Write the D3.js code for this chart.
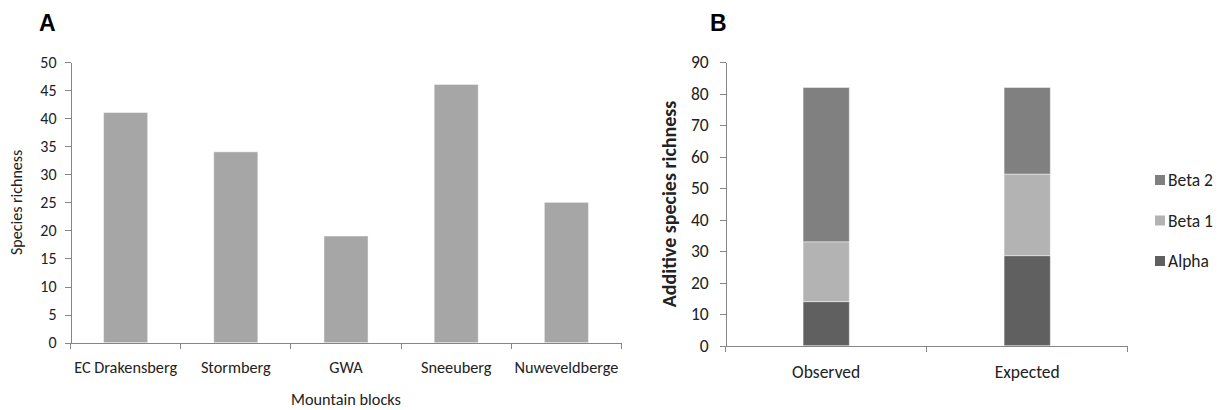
<!DOCTYPE html>
<html>
<head>
<meta charset="utf-8">
<script src="https://cdn.jsdelivr.net/npm/d3@7"></script>
<style>
  body { margin: 0; background: #fff; }
  svg { display: block; font-family: Carlito, Lato, 'Noto Sans', sans-serif; }
  .axis path, .axis line { stroke: #868686; shape-rendering: crispEdges; }
  .axis text { fill: #222; }
  .panel-title { font-family: 'Liberation Sans', Arial, sans-serif; font-weight: bold; font-size: 23px; fill: #000; }
  .title { fill: #222; }
</style>
</head>
<body>
<div id="chart"></div>
<script>
// panel A
const blocks = ['EC Drakensberg', 'Stormberg', 'GWA', 'Sneeuberg', 'Nuweveldberge']
const richness = [41, 34, 19, 46, 25]
const richTicks = [0, 5, 10, 15, 20, 25, 30, 35, 40, 45, 50]

// panel B
const partitions = ['Observed', 'Expected']
const alpha = [14, 28.6]
const beta1 = [19, 25.9]
const beta2 = [49, 27.5]
const components = ['Alpha', 'Beta 1', 'Beta 2']
const addTicks = [0, 10, 20, 30, 40, 50, 60, 70, 80, 90]

const colors = {
  'Alpha': '#606060',
  'Beta 1': '#b3b3b3',
  'Beta 2': '#808080'
}

const svg = d3.select('#chart').append('svg')
    .attr('width', 1219)
    .attr('height', 410)

// ---------- A ----------
const dmsA = { left: 70.5, right: 621.5, top: 62, bottom: 342.7 }

const gA = svg.append('g').attr('id', 'panel-a')

gA.append('text')
    .attr('class', 'panel-title')
    .attr('x', 39)
    .attr('y', 31)
    .text('A')

const xA = d3.scaleBand()
    .domain(blocks)
    .range([dmsA.left, dmsA.right])

const yA = d3.scaleLinear()
    .domain([0, 50])
    .range([dmsA.bottom, dmsA.top])

gA.append('g')
    .selectAll('rect')
    .data(blocks)
    .join('rect')
    .attr('x', d => xA(d) + xA.bandwidth() * 0.3)
    .attr('width', xA.bandwidth() * 0.4)
    .attr('y', (d, i) => yA(richness[i]))
    .attr('height', (d, i) => yA(0) - yA(richness[i]))
    .attr('fill', '#a6a6a6')
    .attr('stroke', 'rgba(255,255,255,0.45)')
    .attr('stroke-width', 1)

gA.append('g')
    .attr('class', 'axis')
    .attr('transform', `translate(${dmsA.left},0)`)
    .call(d3.axisLeft(yA).tickValues(richTicks).tickSize(6).tickPadding(8).tickSizeOuter(0))
    .attr('font-family', null)
    .attr('font-size', '16px')

const xAxisA = gA.append('g')
    .attr('class', 'axis')
    .attr('transform', `translate(0,${dmsA.bottom})`)
    .call(d3.axisBottom(xA).tickSize(0).tickPadding(19).tickSizeOuter(0))
    .attr('font-family', null)
    .attr('font-size', '16.3px')

// Excel-style ticks on category boundaries
xAxisA.selectAll('.edge')
    .data(blocks.concat(['end']))
    .join('line')
    .attr('class', 'edge')
    .attr('x1', (d, i) => i < blocks.length ? xA(d) : dmsA.right)
    .attr('x2', (d, i) => i < blocks.length ? xA(d) : dmsA.right)
    .attr('y1', 0)
    .attr('y2', 6)

gA.append('text')
    .attr('class', 'title')
    .attr('x', (dmsA.left + dmsA.right) / 2)
    .attr('y', 405)
    .attr('text-anchor', 'middle')
    .style('font-size', '16.3px')
    .text('Mountain blocks')

gA.append('text')
    .attr('class', 'title')
    .attr('transform', `translate(22,${(dmsA.top + dmsA.bottom) / 2}) rotate(-90)`)
    .attr('text-anchor', 'middle')
    .style('font-size', '16px')
    .text('Species richness')

// ---------- B ----------
const dmsB = { left: 725.7, right: 1127.7, top: 62.3, bottom: 345.7 }

const gB = svg.append('g').attr('id', 'panel-b')

gB.append('text')
    .attr('class', 'panel-title')
    .attr('x', 710)
    .attr('y', 31)
    .text('B')

const xB = d3.scaleBand()
    .domain(partitions)
    .range([dmsB.left, dmsB.right])

const yB = d3.scaleLinear()
    .domain([0, 90])
    .range([dmsB.bottom, dmsB.top])

const table = partitions.map((p, i) => ({
  partition: p,
  'Alpha': alpha[i],
  'Beta 1': beta1[i],
  'Beta 2': beta2[i]
}))

const stacked = d3.stack().keys(components)(table)

gB.append('g')
    .selectAll('g')
    .data(stacked)
    .join('g')
    .attr('fill', d => colors[d.key])
    .selectAll('rect')
    .data(d => d)
    .join('rect')
    .attr('x', d => xB(d.data.partition) + xB.bandwidth() * 0.385)
    .attr('width', xB.bandwidth() * 0.23)
    .attr('y', d => yB(d[1]))
    .attr('height', d => yB(d[0]) - yB(d[1]))
    .attr('stroke', 'rgba(255,255,255,0.45)')
    .attr('stroke-width', 1)

gB.append('g')
    .attr('class', 'axis')
    .attr('transform', `translate(${dmsB.left},0)`)
    .call(d3.axisLeft(yB).tickValues(addTicks).tickSize(6).tickPadding(11).tickSizeOuter(0))
    .attr('font-family', null)
    .attr('font-size', '17.5px')

const xAxisB = gB.append('g')
    .attr('class', 'axis')
    .attr('transform', `translate(0,${dmsB.bottom})`)
    .call(d3.axisBottom(xB).tickSize(0).tickPadding(20).tickSizeOuter(0))
    .attr('font-family', null)
    .attr('font-size', '17.5px')

xAxisB.selectAll('.edge')
    .data(partitions.concat(['end']))
    .join('line')
    .attr('class', 'edge')
    .attr('x1', (d, i) => i < partitions.length ? xB(d) : dmsB.right)
    .attr('x2', (d, i) => i < partitions.length ? xB(d) : dmsB.right)
    .attr('y1', 0)
    .attr('y2', 6)

gB.append('text')
    .attr('class', 'title')
    .attr('transform', `translate(676,${(dmsB.top + dmsB.bottom) / 2}) rotate(-90)`)
    .attr('text-anchor', 'middle')
    .style('font-size', '20px')
    .style('font-weight', 'bold')
    .text('Additive species richness')

// legend, top entry is the top of the stack
const legend = gB.append('g')
    .attr('transform', 'translate(1155,175)')

const legendItems = legend.selectAll('g')
    .data(components.slice().reverse())
    .join('g')
    .attr('transform', (d, i) => `translate(0,${i * 40.5})`)

legendItems.append('rect')
    .attr('width', 10)
    .attr('height', 10)
    .attr('fill', d => colors[d])

legendItems.append('text')
    .attr('x', 13)
    .attr('y', 11)
    .style('font-size', '17.5px')
    .attr('fill', '#222')
    .text(d => d)
</script>
</body>
</html>
